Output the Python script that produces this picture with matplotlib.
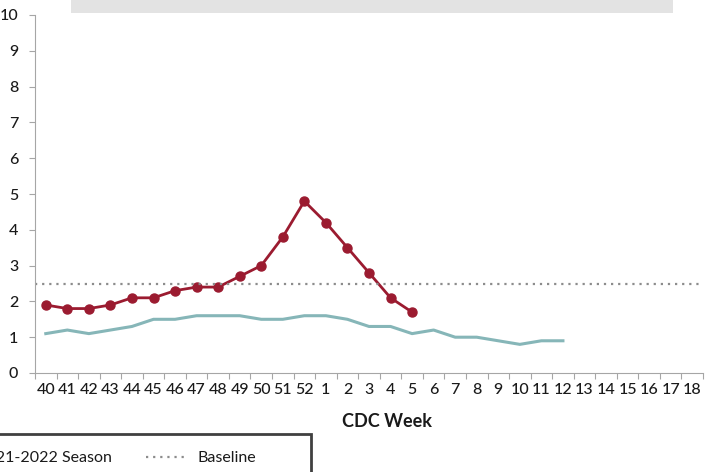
import matplotlib.pyplot as plt
from matplotlib.lines import Line2D
from matplotlib.patches import Rectangle

plt.rcParams['font.family'] = ['Lato', 'DejaVu Sans']

# CDC weeks shown on the x axis
weeks = [str(w) for w in range(40, 53)] + [str(w) for w in range(1, 19)]

# current season (weeks 40 .. 5)
season_now = [1.9, 1.8, 1.8, 1.9, 2.1, 2.1, 2.3, 2.4, 2.4, 2.7, 3.0, 3.8, 4.8,
              4.2, 3.5, 2.8, 2.1, 1.7]
# previous season (weeks 40 .. 12)
season_prev = [1.1, 1.2, 1.1, 1.2, 1.3, 1.5, 1.5, 1.6, 1.6, 1.6, 1.5, 1.5, 1.6,
               1.6, 1.5, 1.3, 1.3, 1.1, 1.2, 1.0, 1.0, 0.9, 0.8, 0.9, 0.9]
baseline = 2.5

red = '#9b1b30'
teal = '#86b6b8'
axis_gray = '#a6a6a6'
text_col = '#1a1a1a'

fig = plt.figure(figsize=(7.15, 4.72), dpi=100)
ax = fig.add_axes([35 / 715, 99 / 472, 668 / 715, 358 / 472])

x = list(range(len(weeks)))
ax.plot(x[:len(season_prev)], season_prev, color=teal, linewidth=2.2)
ax.plot(x[:len(season_now)], season_now, color=red, linewidth=2,
        marker='o', markersize=6.5)
ax.axhline(baseline, color='#8c8c8c', linestyle=(0, (1, 2.2)), linewidth=1.6)

ax.set_xlim(-0.5, len(weeks) - 0.5)
ax.set_ylim(0, 10)
ax.set_yticks(range(0, 11))

# Excel style: tick marks between categories, labels at the centres
ax.set_xticks([i - 0.5 for i in range(len(weeks) + 1)])
ax.set_xticklabels([])
ax.set_xticks(x, minor=True)
ax.set_xticklabels(weeks, minor=True, fontsize=11.5, fontweight='medium',
                   color=text_col)
ax.tick_params(axis='x', which='minor', length=0, pad=7)
ax.tick_params(axis='x', which='major', length=4, color=axis_gray)
ax.tick_params(axis='y', length=4, color=axis_gray, labelsize=11.5, pad=8,
               labelcolor=text_col)
for lab in ax.get_yticklabels():
    lab.set_fontweight('medium')

for side in ['top', 'right']:
    ax.spines[side].set_visible(False)
for side in ['left', 'bottom']:
    ax.spines[side].set_color(axis_gray)

ax.set_xlabel('CDC Week', fontsize=13, fontweight='bold', color=text_col)
ax.xaxis.set_label_coords((387 - 35) / 668, -(413 - 373) / 358)

# grey title band at the top (cut off)
fig.patches.append(Rectangle((71 / 715, 1 - 13 / 472), 602 / 715, 0.05,
                             transform=fig.transFigure, facecolor='#e3e3e3',
                             edgecolor='none'))

# legend frame (cut off at the left and bottom)
fig.patches.append(Rectangle((-0.1, -0.1), 0.1 + 311 / 715, 0.1 + 1 - 434 / 472,
                             transform=fig.transFigure, facecolor='none',
                             edgecolor='#404040', linewidth=2))
handles = [Line2D([], [], color=teal, linewidth=2.2),
           Line2D([], [], color=red, linewidth=2, marker='o', markersize=6.5),
           Line2D([], [], color='#8c8c8c', linestyle=(0, (1, 2.2)), linewidth=1.6)]
labels = ['2020-2021 Season', '2021-2022 Season', 'Baseline']
leg = fig.legend(handles, labels, ncol=3, frameon=False, fontsize=11.5,
                 loc='center right', bbox_to_anchor=(270 / 715, 1 - 458 / 472),
                 handlelength=2.6, handletextpad=0.6, columnspacing=2.1)
for t in leg.get_texts():
    t.set_color(text_col)

plt.savefig('out.png', dpi=100)
